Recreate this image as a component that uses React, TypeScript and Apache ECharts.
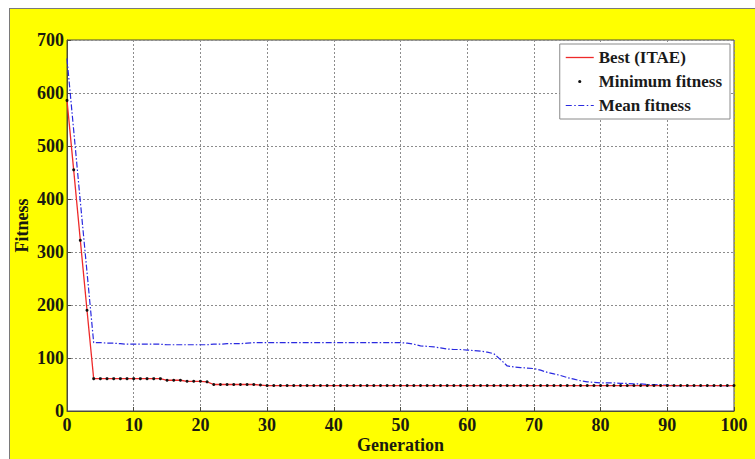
import React, { useEffect, useRef } from "react";
import * as echarts from "echarts";

const bestItae: number[] = [
  586, 455, 322, 190, 61, 61, 61, 61, 61, 61,
  61, 61, 61, 61, 61, 58, 58, 58, 56, 56,
  56, 55, 50, 50, 50, 50, 50, 50, 50, 49,
  48, 48, 48, 48, 48, 48, 48, 48, 48, 48,
  48, 48, 48, 48, 48, 48, 48, 48, 48, 48,
  48, 48, 48, 48, 48, 48, 48, 48, 48, 48,
  48, 48, 48, 48, 48, 48, 48, 48, 48, 48,
  48, 48, 48, 48, 48, 48, 48, 48, 48, 48,
  48, 48, 48, 48, 48, 48, 48, 48, 48, 48,
  48, 48, 48, 48, 48, 48, 48, 48, 48, 48,
  48,
];

const minimumFitness: number[] = [
  586, 455, 322, 190, 61, 61, 61, 61, 61, 61,
  61, 61, 61, 61, 61, 58, 58, 58, 56, 56,
  56, 55, 50, 50, 50, 50, 50, 50, 50, 49,
  48, 48, 48, 48, 48, 48, 48, 48, 48, 48,
  48, 48, 48, 48, 48, 48, 48, 48, 48, 48,
  48, 48, 48, 48, 48, 48, 48, 48, 48, 48,
  48, 48, 48, 48, 48, 48, 48, 48, 48, 48,
  48, 48, 48, 48, 48, 48, 48, 48, 48, 48,
  48, 48, 48, 48, 48, 48, 48, 48, 48, 48,
  48, 48, 48, 48, 48, 48, 48, 48, 48, 48,
  48,
];

const meanFitness: number[] = [
  665, 530, 395, 262, 129, 129, 128, 128, 127, 126,
  126, 126, 126, 126, 126, 125, 125, 125, 125, 125,
  125, 125, 126, 126, 127, 127, 127, 128, 129, 129,
  129, 129, 129, 129, 129, 129, 129, 129, 129, 129,
  129, 129, 129, 129, 129, 129, 129, 129, 129, 129,
  129, 128, 126, 123, 122, 121, 119, 117, 116, 116,
  115, 114, 113, 111, 108, 97, 85, 83, 82, 81,
  80, 77, 73, 70, 67, 63, 60, 57, 55, 54,
  53, 53, 53, 52, 52, 51, 51, 50, 50, 49,
  49, 48, 48, 48, 48, 48, 48, 48, 48, 48,
  48,
];

const xTicks = { min: 0, max: 100, interval: 10 };
const yTicks = { min: 0, max: 700, interval: 100 };

const FONT = "'Liberation Serif', 'Times New Roman', serif";

const toPairs = (arr: number[]) => arr.map((v, i) => [i, v]);

// legend icons: a 28x14 frame (two bare move-tos) holding the visible mark
const ICON_LINE = "path://M0,0 M28,14 M0,6.35 L28,6.35 L28,7.65 L0,7.65 Z";
const ICON_DOT =
  "path://M0,0 M28,14 M12.4,7 A1.6,1.6 0 1,0 15.6,7 A1.6,1.6 0 1,0 12.4,7 Z";
const ICON_DASHDOT =
  "path://M0,0 M28,14 M0,6.4 L6,6.4 L6,7.6 L0,7.6 Z M8.5,6.4 L10,6.4 L10,7.6 L8.5,7.6 Z M12.5,6.4 L18.5,6.4 L18.5,7.6 L12.5,7.6 Z M21,6.4 L22.5,6.4 L22.5,7.6 L21,7.6 Z M25,6.4 L28,6.4 L28,7.6 L25,7.6 Z";

export default function App() {
  const ref = useRef<HTMLDivElement>(null);

  useEffect(() => {
    if (!ref.current) return;
    const chart = echarts.init(ref.current, undefined, { renderer: "svg" });
    const labelStyle = {
      fontFamily: FONT,
      fontWeight: "bold" as const,
      fontSize: 18,
      color: "#1a1a10",
    };
    chart.setOption({
      animation: false,
      backgroundColor: "#ffff00",
      grid: {
        left: 57,
        top: 31,
        right: 21,
        bottom: 48,
        containLabel: false,
        outerBoundsMode: "none",
        show: true,
        backgroundColor: "#ffffff",
        borderColor: "#4a4a40",
        borderWidth: 1,
      },
      legend: {
        orient: "vertical",
        right: 25,
        top: 35,
        padding: [5, 8, 5, 6],
        itemGap: 7,
        itemWidth: 28,
        itemHeight: 14,
        backgroundColor: "#ffffff",
        borderColor: "#8a8a8a",
        borderWidth: 1,
        borderRadius: 0,
        data: [
          { name: "Best (ITAE)", icon: ICON_LINE, itemStyle: { color: "#ee2a2a" } },
          { name: "Minimum fitness", icon: ICON_DOT, itemStyle: { color: "#111111" } },
          { name: "Mean fitness", icon: ICON_DASHDOT, itemStyle: { color: "#2a2ae0" } },
        ],
        textStyle: {
          fontFamily: FONT,
          fontWeight: "bold",
          fontSize: 17,
          color: "#1a1a1a",
        },
      },
      xAxis: {
        type: "value",
        min: xTicks.min,
        max: xTicks.max,
        interval: xTicks.interval,
        name: "Generation",
        nameLocation: "middle",
        nameMoveOverlap: false,
        nameGap: 25,
        nameTextStyle: { ...labelStyle, fontSize: 18, lineHeight: 18 },
        axisLine: { show: true, lineStyle: { color: "#4a4a40", width: 1 } },
        axisTick: { show: true, inside: true, length: 4, lineStyle: { color: "#4a4a40" } },
        axisLabel: { ...labelStyle, margin: 5, lineHeight: 18 },
        splitLine: { show: true, lineStyle: { type: [2, 2], color: "#8c8c8c", width: 1 } },
      },
      yAxis: {
        type: "value",
        min: yTicks.min,
        max: yTicks.max,
        interval: yTicks.interval,
        name: "Fitness",
        nameLocation: "middle",
        nameMoveOverlap: false,
        nameGap: 36,
        nameTextStyle: { ...labelStyle, fontSize: 18 },
        axisLine: { show: true, lineStyle: { color: "#4a4a40", width: 1 } },
        axisTick: { show: true, inside: true, length: 4, lineStyle: { color: "#4a4a40" } },
        axisLabel: { ...labelStyle, margin: 3 },
        splitLine: { show: true, lineStyle: { type: [2, 2], color: "#8c8c8c", width: 1 } },
      },
      series: [
        {
          name: "Mean fitness",
          type: "line",
          data: toPairs(meanFitness),
          symbol: "none",
          lineStyle: { color: "#2a2ae0", width: 1.2, type: [6, 2, 1.5, 2] },
          itemStyle: { color: "#2a2ae0" },
          z: 2,
        },
        {
          name: "Best (ITAE)",
          type: "line",
          data: toPairs(bestItae),
          symbol: "none",
          lineStyle: { color: "#ee2a2a", width: 1.3 },
          itemStyle: { color: "#ee2a2a" },
          z: 3,
        },
        {
          name: "Minimum fitness",
          type: "line",
          data: toPairs(minimumFitness),
          symbol: "circle",
          symbolSize: 3,
          showSymbol: true,
          lineStyle: { width: 0, opacity: 0 },
          itemStyle: { color: "#111111" },
          z: 4,
        },
      ],
    });
    return () => chart.dispose();
  }, []);

  return (
    <div
      style={{
        position: "fixed",
        left: 0,
        top: 0,
        width: 755,
        height: 459,
        background: "#ffffff",
        overflow: "hidden",
      }}
    >
      <div
        style={{
          position: "absolute",
          left: 9,
          top: 8,
          width: 746,
          height: 451,
          boxSizing: "border-box",
          borderTop: "1px solid #7a7a7a",
          borderLeft: "1px solid #7a7a7a",
          background: "#ffff00",
        }}
      />
      <div
        ref={ref}
        style={{ position: "absolute", left: 10, top: 9, width: 745, height: 450 }}
      />
    </div>
  );
}
